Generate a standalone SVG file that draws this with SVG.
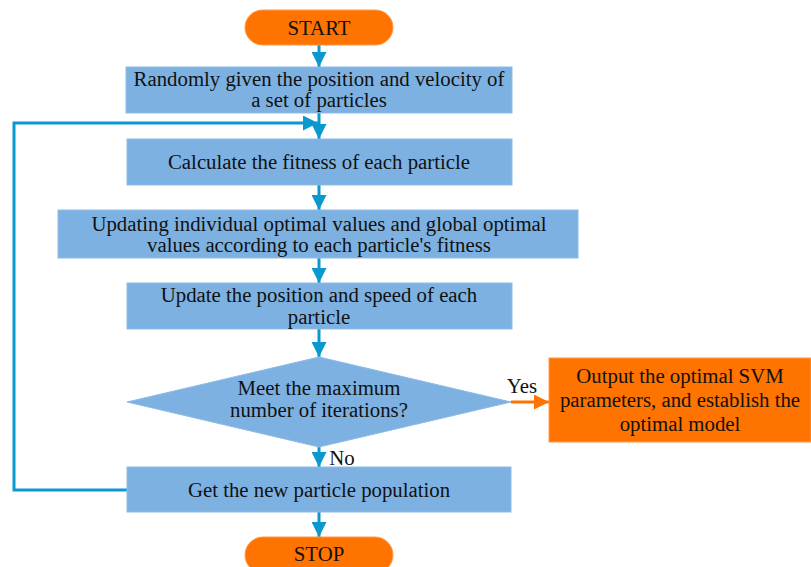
<svg xmlns="http://www.w3.org/2000/svg" width="811" height="567" viewBox="0 0 811 567">
  <style>
    .proc { fill: #7DB1E2; stroke: #8DBBE6; stroke-width: 1; }
    .term { fill: #FF7300; stroke: #FF9A4A; stroke-width: 1; }
    .txt { font-family: 'Liberation Serif', 'Times New Roman', Times, serif; font-size: 20.8px; fill: #111; text-anchor: middle; }
    .flow { fill: none; stroke: #0A99CF; stroke-width: 3; }
    .yes { fill: none; stroke: #FF7300; stroke-width: 3; }
  </style>
  <defs>
    <marker id="arrowBlue" viewBox="0 0 15 15" refX="15" refY="7.5" markerWidth="15" markerHeight="15" orient="auto" markerUnits="userSpaceOnUse">
      <path d="M0,0 L15,7.5 L0,15 Z" fill="#0A99CF"/>
    </marker>
    <marker id="arrowOrange" viewBox="0 0 15 15" refX="15" refY="7.5" markerWidth="15" markerHeight="15" orient="auto" markerUnits="userSpaceOnUse">
      <path d="M0,0 L15,7.5 L0,15 Z" fill="#FF7300"/>
    </marker>
  </defs>

  <!-- connectors -->
  <g id="connectors">
    <line class="flow" x1="319" y1="45" x2="319" y2="67" marker-end="url(#arrowBlue)"/>
    <line class="flow" x1="319" y1="113" x2="319" y2="139" marker-end="url(#arrowBlue)"/>
    <line class="flow" x1="319" y1="185" x2="319" y2="210" marker-end="url(#arrowBlue)"/>
    <line class="flow" x1="319" y1="258" x2="319" y2="283" marker-end="url(#arrowBlue)"/>
    <line class="flow" x1="319" y1="329" x2="319" y2="357" marker-end="url(#arrowBlue)"/>
    <line class="flow" x1="319" y1="447" x2="319" y2="467" marker-end="url(#arrowBlue)"/>
    <line class="flow" x1="319" y1="512" x2="319" y2="537" marker-end="url(#arrowBlue)"/>
    <!-- loop back from the new population to the fitness step -->
    <polyline class="flow" points="127,490 14,490 14,123 318,123" marker-end="url(#arrowBlue)"/>
    <line class="yes" x1="511" y1="402" x2="549" y2="402" marker-end="url(#arrowOrange)"/>
    <text class="txt" x="522" y="393">Yes</text>
    <text class="txt" x="342" y="465">No</text>
  </g>

  <g id="start">
    <rect class="term" x="245" y="10" width="148" height="35" rx="17.5"/>
    <text class="txt" x="319" y="35">START</text>
  </g>

  <g id="init">
    <rect class="proc" x="126" y="67" width="386" height="46"/>
    <text class="txt" x="319" y="86">Randomly given the position and velocity of</text>
    <text class="txt" x="319" y="107">a set of particles</text>
  </g>

  <g id="fitness">
    <rect class="proc" x="127" y="139" width="385" height="46"/>
    <text class="txt" x="319" y="169">Calculate the fitness of each particle</text>
  </g>

  <g id="update-optima">
    <rect class="proc" x="58" y="210" width="520" height="48"/>
    <text class="txt" x="319" y="231">Updating individual optimal values and global optimal</text>
    <text class="txt" x="319" y="252">values according to each particle's fitness</text>
  </g>

  <g id="update-motion">
    <rect class="proc" x="127" y="283" width="385" height="46"/>
    <text class="txt" x="319" y="302">Update the position and speed of each</text>
    <text class="txt" x="319" y="324">particle</text>
  </g>

  <g id="decision">
    <polygon class="proc" points="319,357 511,402 319,447 127,402"/>
    <text class="txt" x="319" y="395">Meet the maximum</text>
    <text class="txt" x="319" y="417">number of iterations?</text>
  </g>

  <g id="output">
    <rect class="term" x="549" y="358" width="262" height="84"/>
    <text class="txt" x="680" y="383">Output the optimal SVM</text>
    <text class="txt" x="680" y="407">parameters, and establish the</text>
    <text class="txt" x="680" y="431">optimal model</text>
  </g>

  <g id="new-population">
    <rect class="proc" x="127" y="467" width="384" height="45"/>
    <text class="txt" x="319" y="497">Get the new particle population</text>
  </g>

  <g id="stop">
    <rect class="term" x="245" y="537" width="148" height="36" rx="18"/>
    <text class="txt" x="319" y="561">STOP</text>
  </g>
</svg>
